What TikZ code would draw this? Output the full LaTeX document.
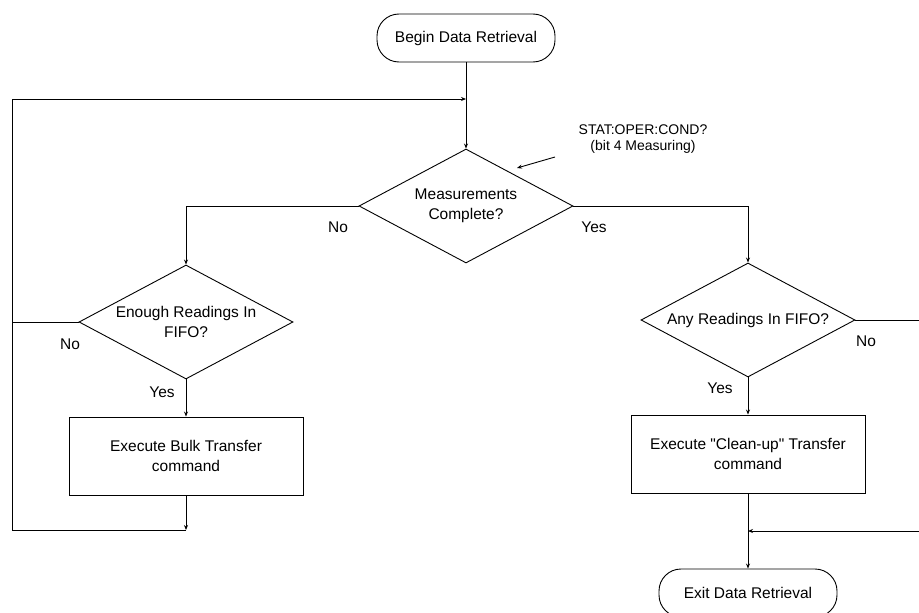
\documentclass[tikz,border=0pt]{standalone}
\usepackage{fontspec}
\setmainfont{Liberation Sans}[Ligatures=TeXOff]
\usetikzlibrary{shapes.geometric,arrows.meta}
\begin{document}
\begin{tikzpicture}[x=1pt,y=-1pt,
  font=\fontsize{15.5}{20}\selectfont,
  every node/.style={inner sep=0pt},
  line/.style={line width=0.9pt},
  arr/.style={line width=0.9pt,-{Stealth[length=5pt,width=4pt]}},
  term/.style={draw,line width=0.9pt,rounded corners=22pt,minimum width=178pt,minimum height=48pt,align=center},
  dec/.style={draw,line width=0.9pt,diamond,aspect=1.877,minimum width=214pt,minimum height=114pt,align=center},
  proc/.style={draw,line width=0.9pt,minimum width=234pt,minimum height=78pt,align=center},
  lbl/.style={font=\fontsize{15.5}{20}\selectfont},
  note/.style={font=\fontsize{14}{16}\selectfont,align=center}
]
\useasboundingbox (0,0) rectangle (919,613);

% nodes
\node[term] (begin) at (466,38) {Begin Data Retrieval};
\node[dec] (md) at (466,206) {Measurements\\Complete?};
\node[dec] (ld) at (186,322) {Enough Readings In\\FIFO?};
\node[dec] (rd) at (748,320) {Any Readings In FIFO?};
\node[proc] (lb) at (186,456) {Execute Bulk Transfer\\command};
\node[proc] (rb) at (748,454) {Execute "Clean-up" Transfer\\command};
\node[term] (exit) at (748,593) {Exit Data Retrieval};

\node[note] (ann) at (643,139) {STAT:OPER:COND?\\(bit 4 Measuring)};

% labels
\node[lbl] (mno)  at (338,227) {No};
\node[lbl] (myes) at (594,227) {Yes};
\node[lbl] (lno)  at (70,344)  {No};
\node[lbl] (lyes) at (162,392) {Yes};
\node[lbl] (rno)  at (866,341) {No};
\node[lbl] (ryes) at (720,388) {Yes};

% helper coordinates
\coordinate (j)   at (466,99);
\coordinate (ltl) at (12,99);
\coordinate (lml) at (12,322);
\coordinate (lbl) at (12,530);
\coordinate (lc)  at (186,530);
\coordinate (rtr) at (930,320);
\coordinate (rbr) at (930,531);
\coordinate (rc)  at (748,531);
\coordinate (as)  at (555,157);
\coordinate (ae)  at (517,168);

% connectors
\draw[arr] (begin.south) -- (md.north);
\draw[arr] (md.west) -| (ld.north);
\draw[arr] (md.east) -| (rd.north);
\draw[arr] (ld.south) -- (lb.north);
\draw[arr] (rd.south) -- (rb.north);
\draw[arr] (lb.south) -- (lc);
\draw[arr] (lc) -- (lbl) -- (ltl) -- (j);
\draw[line] (ld.west) -- (lml);
\draw[line] (rd.east) -- (rtr) -- (rbr);
\draw[arr] (rbr) -- (rc);
\draw[arr] (rb.south) -- (exit.north);
\draw[arr] (as) -- (ae);
\end{tikzpicture}
\end{document}
